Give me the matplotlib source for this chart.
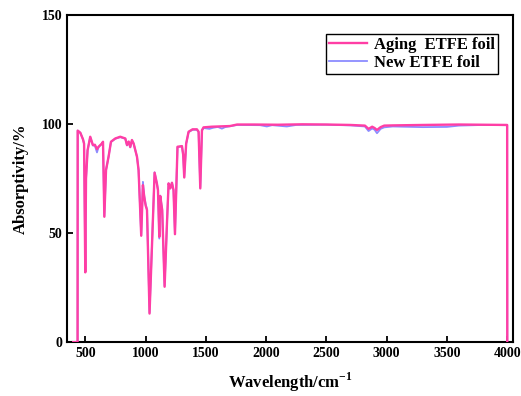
"""
FTIR absorptivity of aging vs. new ETFE foil
"""

import matplotlib
matplotlib.use('Agg')

import matplotlib.pyplot as plt

# Aging ETFE foil (pink)
aging_wn = [400, 436, 437, 459, 481, 490, 500, 506, 519, 541, 563, 580, 597, 610,
            638, 647, 658, 672, 693, 713, 749, 790, 832, 846, 860, 873, 887, 901,
            929, 942, 964, 978, 989, 1000, 1012, 1033, 1075, 1094, 1103, 1114,
            1122, 1138, 1158, 1178, 1191, 1205, 1219, 1232, 1244, 1265, 1302,
            1312, 1321, 1337, 1357, 1390, 1426, 1440, 1454, 1468, 1481, 1550,
            1700, 1760, 1900, 2100, 2300, 2500, 2700, 2820, 2850, 2880, 2900,
            2920, 2950, 2980, 3050, 3300, 3600, 3800, 4000, 4001]
aging_abs = [0, 0, 97.0, 96.0, 93.0, 91.0, 32.0, 75.0, 88.0, 94.2, 90.4, 90.5, 88.5, 89.6,
             91.1, 91.9, 57.5, 78.9, 85.0, 91.9, 93.4, 94.2, 93.4, 90.4, 92.0, 89.5, 92.7, 91.1,
             85.0, 78.9, 48.8, 72.0, 66.7, 62.8, 60.6, 13.1, 77.7, 72.8, 69.7, 48.3,
             67.0, 60.6, 25.4, 55.0, 72.8, 70.5, 73.1, 69.7, 49.5, 89.6, 89.9,
             86.0, 75.5, 91.1, 96.5, 97.6, 97.6, 96.5, 70.5, 97.2, 98.5, 98.8,
             99.1, 99.8, 99.8, 99.7, 99.9, 99.8, 99.6, 99.3, 97.8, 98.8, 98.2,
             97.3, 98.6, 99.3, 99.4, 99.6, 99.8, 99.7, 99.6, 0]

# New ETFE foil (blue)
new_wn = [400, 436, 437, 459, 481, 490, 500, 506, 519, 541, 563, 580, 597, 610,
          638, 647, 658, 672, 693, 713, 749, 790, 832, 846, 860, 873, 887, 901,
          929, 942, 964, 978, 989, 1000, 1012, 1033, 1075, 1094, 1103, 1114,
          1122, 1138, 1158, 1178, 1191, 1205, 1219, 1232, 1244, 1265, 1302,
          1312, 1321, 1337, 1357, 1390, 1426, 1440, 1454, 1468, 1481, 1530,
          1560, 1600, 1633, 1660, 1700, 1760, 1950, 2006, 2050, 2172, 2250,
          2500, 2700, 2820, 2850, 2880, 2900, 2920, 2950, 2980, 3050, 3300,
          3500, 3600, 3800, 4000, 4001]
new_abs = [0, 0, 97.0, 96.0, 93.0, 91.0, 32.5, 75.0, 88.0, 94.0, 90.2, 90.0, 87.0, 89.4,
           91.0, 91.8, 57.8, 78.9, 85.0, 91.8, 93.3, 94.0, 93.3, 90.2, 91.8, 89.3, 92.5, 91.0,
           85.0, 78.9, 49.0, 73.5, 67.0, 63.5, 60.8, 13.5, 77.9, 72.8, 69.7, 47.5,
           67.2, 60.6, 25.8, 55.0, 72.8, 70.5, 73.1, 69.7, 49.8, 89.4, 89.8,
           86.0, 75.8, 91.0, 96.3, 97.4, 97.4, 96.3, 71.0, 97.0, 98.2, 97.8,
           98.3, 98.7, 97.9, 98.6, 99.0, 99.6, 99.5, 98.9, 99.5, 98.9, 99.6,
           99.7, 99.4, 98.9, 96.8, 98.0, 97.4, 95.8, 97.8, 98.5, 98.9, 98.6,
           98.7, 99.3, 99.6, 99.5, 0]

x_ticks = [500, 1000, 1500, 2000, 2500, 3000, 3500, 4000]
y_ticks = [0, 50, 100, 150]

plt.rcParams['font.family'] = ['Liberation Serif', 'DejaVu Serif']
plt.rcParams['font.weight'] = 'bold'
plt.rcParams['mathtext.fontset'] = 'custom'
plt.rcParams['mathtext.rm'] = 'Liberation Serif:bold'
plt.rcParams['mathtext.bf'] = 'Liberation Serif:bold'

fig = plt.figure(figsize=(5.21, 3.96), dpi=100)
ax = fig.add_axes([0.129, 0.136, 0.856, 0.826])

ax.plot(new_wn, new_abs, color='#8C8CFF', lw=1.3, label='New ETFE foil', zorder=2)
ax.plot(aging_wn, aging_abs, color='#FF3EA5', lw=1.7, label='Aging  ETFE foil', zorder=3)

ax.set_xlim(350, 4050)
ax.set_ylim(0, 150)
ax.set_xticks(x_ticks)
ax.set_yticks(y_ticks)
ax.tick_params(direction='in', length=4, width=1.3, labelsize=10)
for lab in ax.get_xticklabels() + ax.get_yticklabels():
    lab.set_fontweight('bold')
for sp in ax.spines.values():
    sp.set_linewidth(1.5)

ax.set_xlabel(r'Wavelength/cm$^{-1}$', fontsize=12, fontweight='bold', labelpad=8)
ax.set_ylabel('Absorptivity/%', fontsize=12, fontweight='bold', labelpad=9)

handles, labels = ax.get_legend_handles_labels()
leg = ax.legend(handles[::-1], labels[::-1], loc='upper right',
                bbox_to_anchor=(0.967, 0.943), fontsize=12, frameon=True,
                fancybox=False, framealpha=1, edgecolor='black',
                handlelength=2.3, handletextpad=0.4, borderpad=0.2,
                labelspacing=0.1, borderaxespad=0)
leg.get_frame().set_linewidth(1.0)
for t in leg.get_texts():
    t.set_fontweight('bold')

fig.savefig('out.png', dpi=100)
